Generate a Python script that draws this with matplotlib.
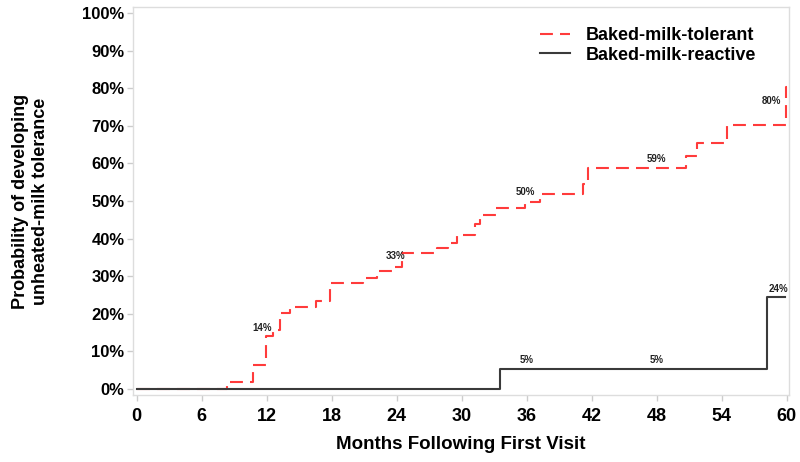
import matplotlib
matplotlib.use("Agg")
import matplotlib.pyplot as plt
from matplotlib.ticker import FuncFormatter

plt.rcParams['font.family'] = ['Liberation Sans', 'DejaVu Sans']

# Baked-milk-tolerant step function (months, probability %)
tol_months = [0, 8.3, 10.7, 11.9, 12.6, 13.2, 14.1, 16.5, 17.8, 20.9, 22.2, 23.8, 24.5,
              27.7, 28.7, 29.6, 31.2, 31.7, 33.2, 35.8, 37.2, 41.2, 41.6, 50.7, 51.7,
              54.45, 59.9, 60.0]
tol_values = [0, 1.8, 6.4, 14.2, 15.7, 20.1, 21.8, 23.5, 28.1, 29.5, 31.3, 32.5, 36.1,
              37.4, 38.7, 41.0, 44.0, 46.3, 48.0, 49.8, 51.9, 54.5, 58.7, 62.0, 65.3,
              70.2, 80.4, 80.4]

# Baked-milk-reactive step function
rea_months = [0, 33.5, 58.2, 59.8]
rea_values = [0, 5.3, 24.4, 24.4]

# Annotations
tol_ann_x = [11.6, 23.9, 35.9, 48.0, 58.6]
tol_ann_y = [16.3, 35.4, 52.4, 61.2, 76.7]
tol_ann_txt = ["14%", "33%", "50%", "59%", "80%"]
rea_ann_x = [36.0, 48.0, 59.2]
rea_ann_y = [7.6, 7.6, 26.6]
rea_ann_txt = ["5%", "5%", "24%"]

x_ticks = [0, 6, 12, 18, 24, 30, 36, 42, 48, 54, 60]
y_ticks = [0, 10, 20, 30, 40, 50, 60, 70, 80, 90, 100]

fig = plt.figure(figsize=(8, 4.62), dpi=100)
ax = fig.add_axes([0.166, 0.145, 0.82, 0.84])

ax.step(tol_months, tol_values, where='post', color='#ff3b3b', lw=1.5,
        dashes=(6.2, 3.4), label='Baked-milk-tolerant', zorder=2)
ax.step(rea_months, rea_values, where='post', color='#3a3a3a', lw=1.5,
        label='Baked-milk-reactive', zorder=3)

for x, y, t in zip(tol_ann_x, tol_ann_y, tol_ann_txt):
    ax.text(x, y, t, fontsize=7, fontweight='bold', ha='center', va='center', color='#222222')
for x, y, t in zip(rea_ann_x, rea_ann_y, rea_ann_txt):
    ax.text(x, y, t, fontsize=7, fontweight='bold', ha='center', va='center', color='#222222')

ax.set_xlim(-0.37, 60.18)
ax.set_ylim(-1.6, 101.6)
ax.set_xticks(x_ticks)
ax.set_yticks(y_ticks)
ax.yaxis.set_major_formatter(FuncFormatter(lambda v, p: f"{int(v)}%"))
for lab in ax.get_xticklabels():
    lab.set_fontweight('bold')
    lab.set_fontsize(13)
for lab in ax.get_yticklabels():
    lab.set_fontweight('bold')
    lab.set_fontsize(12)
ax.tick_params(axis='both', colors='#cccccc', length=4, width=1, labelcolor='black')
ax.tick_params(axis='x', pad=5)
ax.tick_params(axis='y', pad=2)
for s in ax.spines.values():
    s.set_color('#dddddd')
    s.set_linewidth(1)

ax.set_xlabel('Months Following First Visit', fontsize=13.5, fontweight='bold', labelpad=8)
ax.set_ylabel('Probability of developing\nunheated-milk tolerance', fontsize=13,
              fontweight='bold', labelpad=24)

leg = ax.legend(loc='upper right', bbox_to_anchor=(0.975, 0.99), frameon=False,
                prop={'weight': 'bold', 'size': 13}, handlelength=1.7,
                labelspacing=0.15, handletextpad=0.85)

fig.savefig('out.png', dpi=100)
